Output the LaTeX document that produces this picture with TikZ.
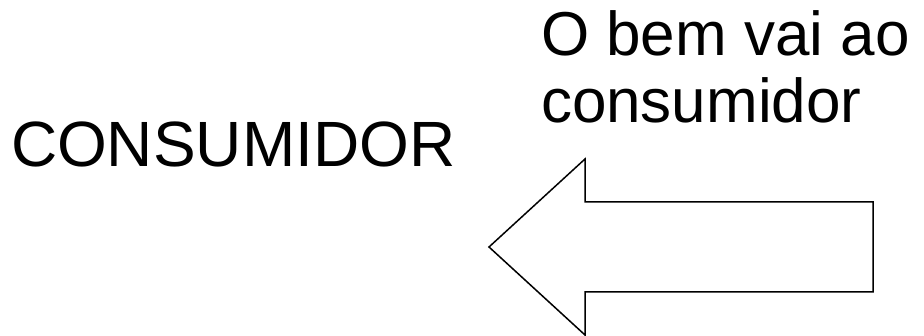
\documentclass[tikz,border=0pt]{standalone}
\usepackage{fontspec}
\setmainfont{Liberation Sans}
\begin{document}
\begin{tikzpicture}[x=1pt,y=-1pt,
  label/.style={inner sep=0pt,outer sep=0pt,anchor=base west},
  bigtext/.style={label,font=\fontsize{64}{72}\selectfont},
  captext/.style={label,font=\fontsize{62}{70}\selectfont},
  blockarrow/.style={draw=black,line width=1.5pt,line join=miter,fill=white}]
  \useasboundingbox (0,0) rectangle (924,336);
  \node[bigtext] (who) at (11,167) {CONSUMIDOR};
  \node[captext] (cap1) at (541,56) {O bem vai ao};
  \node[captext] (cap2) at (541,123) {consumidor};
  % hollow block arrow pointing left
  \coordinate (tip) at (489,247);
  \draw[blockarrow] (tip) -- (585,159) -- (585,202) -- (873,202)
    -- (873,292) -- (585,292) -- (585,335) -- cycle;
\end{tikzpicture}
\end{document}
